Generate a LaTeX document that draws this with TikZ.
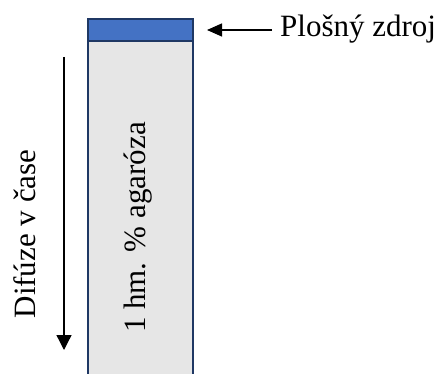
\documentclass[tikz,border=0pt]{standalone}
\usepackage{fontspec}
\setmainfont{Liberation Serif}
\usetikzlibrary{arrows.meta}
\definecolor{srcblue}{HTML}{4472C4}
\definecolor{edgenavy}{HTML}{1F3864}
\definecolor{gelgray}{HTML}{E6E6E6}
\begin{document}
\begin{tikzpicture}[x=1pt,y=-1pt,
  box/.style={draw=edgenavy,line width=2pt,minimum width=105pt,inner sep=0pt,outer sep=0pt},
  lbl/.style={inner sep=0pt,font=\fontsize{31}{31}\selectfont},
  arr/.style={line width=1.3pt,-{Triangle[length=15pt,width=13pt]}}]
\useasboundingbox (0,0) rectangle (444,374);
\node[box,fill=gelgray,minimum height=345pt,anchor=north west] (gel) at (88,41) {};
\node[box,fill=srcblue,minimum height=22pt,anchor=north west] (src) at (88,19) {};
\node[lbl,anchor=base west] (plz) at (280,37) {Plošný zdroj};
\node[lbl,rotate=90,anchor=base] (dif) at (35,234) {Difúze v čase};
\node[lbl,rotate=90,anchor=base] (aga) at (145,227.5) {1 hm. \% agaróza};
\coordinate (d1) at (64,57);
\coordinate (d2) at (64,350);
\draw[arr] ([xshift=-8pt]plz.west |- src.east) -- ([xshift=14pt]src.east);
\draw[arr,-{Triangle[length=15pt,width=15pt]}] (d1) -- (d2);
\end{tikzpicture}
\end{document}
